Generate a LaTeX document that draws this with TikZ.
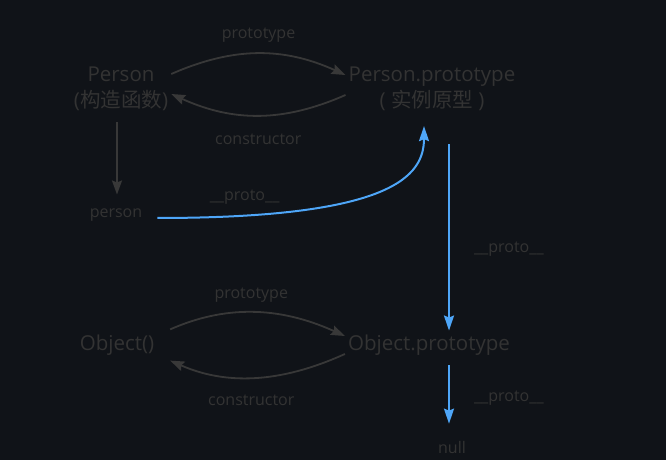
\documentclass[tikz,border=0pt]{standalone}
\usepackage{fontspec}
\setmainfont{Open Sans}
\newfontfamily\cjk{Noto Sans CJK SC}
\usetikzlibrary{arrows.meta}
\definecolor{bgColor}{HTML}{101318}
\definecolor{textColor}{HTML}{333333}
\definecolor{lineColor}{HTML}{383838}
\definecolor{protoColor}{HTML}{4EA6F8}

\begin{document}
\begin{tikzpicture}
[x=1pt,y=1pt,
 nodeDecorate/.style={text=textColor,inner sep=3pt,align=center,font=\fontsize{20.5}{26}\selectfont},
 smallDecorate/.style={text=textColor,inner sep=2pt,font=\fontsize{16}{19}\selectfont}]
\fill[bgColor] (0,0) rectangle (666,460);
%% nodes or objects
\node (Person) at (121,371) [nodeDecorate] {Person\\({\cjk 构造函数})};
\node (PersonProto) at (432,371) [nodeDecorate] {Person.prototype\\( {\cjk 实例原型} )};
\node (Object) at (117,115) [nodeDecorate] {Object()};
\node (ObjectProto) at (429,115) [nodeDecorate] {Object.prototype};
\foreach \nodename/\x/\y in {person/116/245, null/452/12}
{
  \node (\nodename) at (\x,\y) [smallDecorate] {\nodename};
}
%% edges or lines
\tikzstyle{EdgeStyle}=[draw=lineColor,line width=1.8pt,-{Stealth[length=14pt,width=10pt,inset=2pt]}]
\tikzstyle{ProtoStyle}=[draw=protoColor,line width=2pt,-{Stealth[length=15pt,width=10pt,inset=2pt]}]
\tikzstyle{LabelStyle}=[smallDecorate]
\draw[EdgeStyle] ([yshift=15pt]Person.east) to[bend left=24]
  node[LabelStyle,above=8pt] {prototype} ([yshift=14pt]PersonProto.west);
\draw[EdgeStyle] ([yshift=-6pt]PersonProto.west) to[bend left=24]
  node[LabelStyle,below=16pt] {constructor} ([yshift=-5pt]Person.east);
\draw[EdgeStyle,shorten <=14pt] ([yshift=10pt]Object.east) to[bend left=24]
  node[LabelStyle,above=8pt] {prototype} ([yshift=9pt]ObjectProto.west);
\draw[EdgeStyle,shorten >=14pt] ([yshift=-9pt]ObjectProto.west) to[bend left=24]
  node[LabelStyle,below=15pt] {constructor} ([yshift=-10pt]Object.east);
\draw[EdgeStyle,shorten <=8pt,shorten >=12pt] ([xshift=-4pt]Person.south) -- ([xshift=1pt]person.north);
%% __proto__ chain
\draw[ProtoStyle,shorten >=12pt] ([xshift=13pt,yshift=-3pt]person.east)
  to[out=0,in=-90,out distance=235pt,in distance=62pt]
  node[LabelStyle,pos=0.14,above=8pt] {\_\_proto\_\_} ([xshift=-8pt]PersonProto.south);
\draw[ProtoStyle,shorten <=30pt,shorten >=1pt] ([xshift=17pt]PersonProto.south) --
  node[LabelStyle,pos=0.62,right=22pt] {\_\_proto\_\_} ([xshift=20pt]ObjectProto.north);
\draw[ProtoStyle,shorten <=7pt,shorten >=16pt] ([xshift=20pt]ObjectProto.south) --
  node[LabelStyle,pos=0.49,right=22pt] {\_\_proto\_\_} ([xshift=-3pt]null.north);
\end{tikzpicture}
\end{document}
